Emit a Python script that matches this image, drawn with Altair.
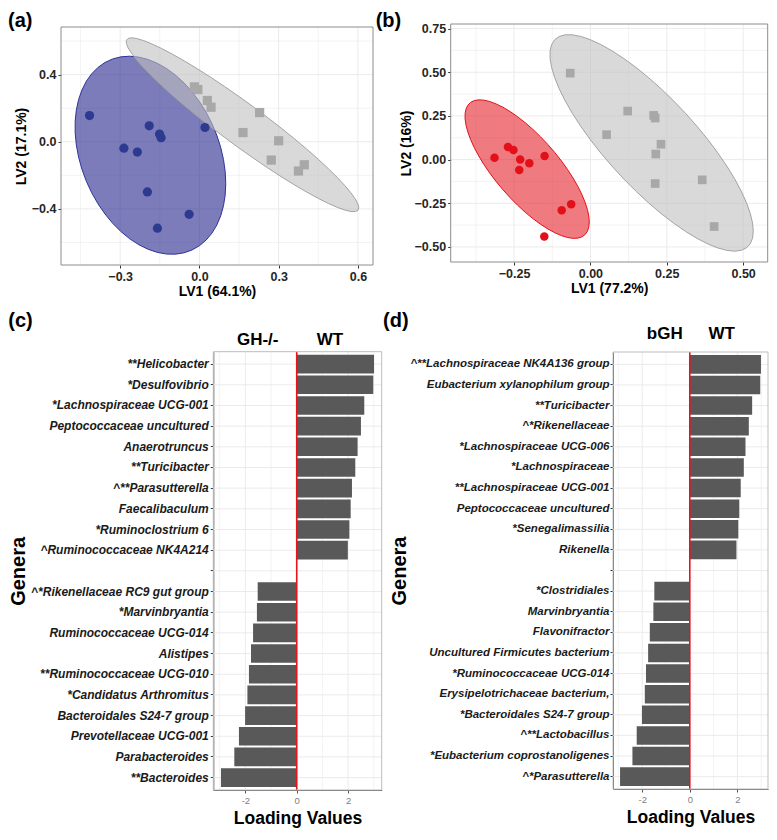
import numpy as np
import pandas as pd
import altair as alt

# ---------------- data ----------------
# (a) GH-/- (blue circles) vs WT (grey squares)
a_gh_lv1 = [-0.416, -0.190, -0.151, -0.145, 0.021, -0.286, -0.235, -0.197, -0.039, -0.159]
a_gh_lv2 = [0.156, 0.095, 0.046, 0.024, 0.085, -0.038, -0.061, -0.299, -0.432, -0.515]
a_wt_lv1 = [-0.019, -0.006, 0.030, 0.044, 0.228, 0.165, 0.300, 0.272, 0.397, 0.375]
a_wt_lv2 = [0.327, 0.311, 0.246, 0.206, 0.174, 0.055, 0.006, -0.109, -0.137, -0.174]

# (b) bGH (red circles) vs WT (grey squares)
b_bgh_lv1 = [-0.314, -0.270, -0.252, -0.230, -0.233, -0.200, -0.150, -0.094, -0.063, -0.151]
b_bgh_lv2 = [0.011, 0.072, 0.055, 0.000, -0.059, -0.021, 0.021, -0.290, -0.255, -0.440]
b_wt_lv1 = [-0.066, 0.122, 0.207, 0.212, 0.053, 0.231, 0.214, 0.212, 0.366, 0.405]
b_wt_lv2 = [0.495, 0.278, 0.253, 0.238, 0.143, 0.088, 0.032, -0.137, -0.116, -0.383]

# (c) loadings GH-/- vs WT
c_genera = ["**Helicobacter", "*Desulfovibrio", "*Lachnospiraceae UCG-001",
            "Peptococcaceae uncultured", "Anaerotruncus", "**Turicibacter",
            "^**Parasutterella", "Faecalibaculum", "*Ruminoclostrium 6",
            "^Ruminococcaceae NK4A214", " ",
            "^*Rikenellaceae RC9 gut group", "*Marvinbryantia", "Ruminococcaceae UCG-014",
            "Alistipes", "**Ruminococcaceae UCG-010", "*Candidatus Arthromitus",
            "Bacteroidales S24-7 group", "Prevotellaceae UCG-001", "Parabacteroides",
            "**Bacteroides"]
c_values = [3.01, 2.98, 2.63, 2.50, 2.37, 2.28, 2.15, 2.10, 2.05, 1.99,
            -1.52, -1.55, -1.70, -1.78, -1.86, -1.92, -2.01, -2.25, -2.43, -2.95]
c_headers = ["GH-/-", "WT"]
c_header_x = [-1.52, 1.29]

# (d) loadings bGH vs WT
d_genera = ["^**Lachnospiraceae NK4A136 group", "Eubacterium xylanophilum group",
            "**Turicibacter", "^*Rikenellaceae", "*Lachnospiraceae UCG-006",
            "*Lachnospiraceae", "**Lachnospiraceae UCG-001", "Peptococcaceae uncultured",
            "*Senegalimassilia", "Rikenella", " ",
            "*Clostridiales", "Marvinbryantia", "Flavonifractor",
            "Uncultured Firmicutes bacterium", "*Ruminococcaceae UCG-014",
            "Erysipelotrichaceae bacterium,", "*Bacteroidales S24-7 group",
            "^**Lactobacillus", "*Eubacterium coprostanoligenes", "^*Parasutterella"]
d_values = [2.99, 2.96, 2.62, 2.48, 2.34, 2.27, 2.14, 2.08, 2.04, 1.96,
            -1.49, -1.53, -1.68, -1.75, -1.84, -1.89, -2.01, -2.23, -2.41, -2.93]
d_headers = ["bGH", "WT"]
d_header_x = [-1.05, 1.34]

zero_line = [0]

# ---------------- layout / style ----------------
W, H = 761, 824
SANS = "Liberation Sans, Arial, sans-serif"
GRID = "#EBEBEB"
# plot-area boxes (pixels inside the view)
BOX = {
    "a": dict(x0=53, x1=365, y0=19, y1=257),
    "b": dict(x0=442.7, x1=759.7, y0=16, y1=254),
    "c": dict(x0=205.3, x1=373.7, y0=343.7, y1=782),
    "d": dict(x0=605, x1=760, y0=344, y1=781),
}


def robust_ellipse(xs, ys, level=0.95, nu=5, segments=51, maxit=25, tol=0.01):
    """Multivariate-t (cov.trob) confidence ellipse, as stat_ellipse(type='t')."""
    pts = np.column_stack([xs, ys]).astype(float)
    n, p = pts.shape
    wt = np.ones(n)
    loc = pts.mean(axis=0)
    w = np.sqrt(wt)
    X = pts - loc
    for _ in range(maxit):
        w0 = w
        X = pts - loc
        sw = np.sqrt(w / w.sum())
        _, d, vt = np.linalg.svd(sw[:, None] * X, full_matrices=False)
        wX = X @ vt.T @ np.diag(1.0 / d)
        Q = (wX ** 2).sum(axis=1)
        w = wt * (nu + p) / (nu + Q)
        loc = (w[:, None] * pts).sum(axis=0) / w.sum()
        if np.all(np.abs(w - w0) < tol):
            break
    sX = np.sqrt(w)[:, None] * X
    cov = sX.T @ sX / wt.sum()
    dfd = n - 1
    fq = dfd / 2.0 * ((1 - level) ** (-2.0 / dfd) - 1)
    radius = np.sqrt(2 * fq)
    R = np.linalg.cholesky(cov).T
    ang = np.arange(segments + 1) * 2 * np.pi / segments
    circ = np.column_stack([np.cos(ang), np.sin(ang)])
    ell = loc + radius * circ @ R
    return pd.DataFrame({"x": ell[:, 0], "y": ell[:, 1], "i": np.arange(segments + 1)})


def padded(vals, frac=0.05):
    lo, hi = float(min(vals)), float(max(vals))
    r = hi - lo
    return [lo - frac * r, hi + frac * r]


ONE = pd.DataFrame({"k": [0]})


def scatter_panel(key, tag, tag_dx, tag_dy, gx, gy, wx, wy, g_fill, g_line, g_point,
                  g_size, w_size, x_major, x_minor, y_major, y_minor, fmt,
                  x_title, y_title, y_title_pad):
    b = BOX[key]
    ge = robust_ellipse(gx, gy)
    we = robust_ellipse(wx, wy)
    xdom = padded(list(ge.x) + list(we.x) + gx + wx)
    ydom = padded(list(ge.y) + list(we.y) + gy + wy)
    xsc = alt.Scale(domain=xdom, range=[b["x0"], b["x1"]], nice=False, zero=False)
    ysc = alt.Scale(domain=ydom, range=[b["y1"], b["y0"]], nice=False, zero=False)
    common = dict(grid=False, domain=False, tickColor="#333333", tickSize=3, tickWidth=1,
                  labelFont=SANS, labelFontSize=12.5, labelFontWeight="bold",
                  labelColor="#262626", labelPadding=2,
                  titleFont=SANS, titleFontSize=14, titleFontWeight="bold",
                  titleColor="#000000")
    xax = alt.Axis(values=x_major, format=fmt, title=x_title, titlePadding=2,
                   orient="bottom", offset=b["y1"] - H, **common)
    yax = alt.Axis(values=y_major, format=fmt, title=y_title, titlePadding=y_title_pad,
                   orient="left", offset=-b["x0"], **common)

    def X(f):
        return alt.X(f, type="quantitative", scale=xsc, axis=None)

    def Y(f):
        return alt.Y(f, type="quantitative", scale=ysc, axis=None)

    def XD(v, axis=None):
        return alt.XDatum(v, type="quantitative", scale=xsc, axis=axis)

    def YD(v, axis=None):
        return alt.YDatum(v, type="quantitative", scale=ysc, axis=axis)

    layers = []
    for vals, wdt in ((x_major, 1.0), (x_minor, 0.6)):
        layers.append(alt.Chart(pd.DataFrame({"v": vals})).mark_rule(
            color=GRID, strokeWidth=wdt).encode(
            x=X("v"), y=YD(ydom[0]), y2=alt.Y2Datum(ydom[1])))
    for vals, wdt in ((y_major, 1.0), (y_minor, 0.6)):
        layers.append(alt.Chart(pd.DataFrame({"v": vals})).mark_rule(
            color=GRID, strokeWidth=wdt).encode(
            y=Y("v"), x=XD(xdom[0]), x2=alt.X2Datum(xdom[1])))
    layers.append(alt.Chart(ge).mark_line(
        fill=g_fill, fillOpacity=0.6, stroke=g_line, strokeWidth=1).encode(
        x=X("x"), y=Y("y"), order="i:Q"))
    layers.append(alt.Chart(we).mark_line(
        fill="#BFBFBF", fillOpacity=0.6, stroke="#A3A3A3", strokeWidth=1).encode(
        x=X("x"), y=Y("y"), order="i:Q"))
    layers.append(alt.Chart(pd.DataFrame({"x": gx, "y": gy})).mark_circle(
        size=g_size, color=g_point, opacity=1).encode(x=X("x"), y=Y("y")))
    layers.append(alt.Chart(pd.DataFrame({"x": wx, "y": wy})).mark_point(
        shape="square", filled=True, size=w_size, color="#A8A8A8", opacity=1
    ).encode(x=X("x"), y=Y("y")))
    layers.append(alt.Chart(ONE).mark_rect(
        fillOpacity=0, stroke="#8C8C8C", strokeWidth=1).encode(
        x=XD(xdom[0], xax), x2=alt.X2Datum(xdom[1]),
        y=YD(ydom[0], yax), y2=alt.Y2Datum(ydom[1])))
    layers.append(alt.Chart(pd.DataFrame({"t": [tag]})).mark_text(
        font=SANS, fontSize=20, fontWeight="bold", color="#000000",
        align="left", baseline="top", dx=tag_dx, dy=tag_dy).encode(
        x=XD(xdom[0]), y=YD(ydom[1]), text="t:N"))
    return layers


def bar_panel(key, tag, tag_dx, tag_dy, genera, values, headers, header_x, header_dy,
              label_size, label_pad, title_pad):
    b = BOX[key]
    names = [g for g in genera if g.strip()]
    df = pd.DataFrame({"genus": names, "value": values})
    xdom = padded(values + zero_line)
    xsc = alt.Scale(domain=xdom, range=[b["x0"], b["x1"]], nice=False, zero=False)
    ysc = alt.Scale(domain=genera, range=[b["y0"], b["y1"]],
                    paddingInner=0.1, paddingOuter=0.15)
    fsc = alt.Scale(domain=[0, 1], range=[b["y1"], b["y0"]], nice=False, zero=False)
    xax = alt.Axis(values=[-2, 0, 2], labelExpr="'' + datum.value", grid=False,
                   orient="bottom", offset=b["y1"] - H,
                   domainColor="#555555", tickColor="#555555", tickSize=3,
                   labelFont=SANS, labelFontSize=9.5, labelColor="#808080", labelPadding=2,
                   title="Loading Values", titleFont=SANS, titleFontSize=17.5,
                   titleFontWeight="bold", titleColor="#000000", titlePadding=5)
    yax = alt.Axis(grid=False, orient="left", offset=-b["x0"],
                   domainColor="#555555", tickColor="#333333",
                   tickSize=3, labelFont=SANS, labelFontStyle="italic",
                   labelFontWeight="bold", labelFontSize=label_size, labelColor="#1A1A1A",
                   labelPadding=label_pad, labelLimit=0,
                   title="Genera", titleFont=SANS, titleFontSize=20, titleFontWeight="bold",
                   titleColor="#000000", titlePadding=title_pad)

    def X(f, axis=None):
        return alt.X(f, type="quantitative", scale=xsc, axis=axis)

    def XD(v, axis=None):
        return alt.XDatum(v, type="quantitative", scale=xsc, axis=axis)

    def FD(v):
        return alt.YDatum(v, type="quantitative", scale=fsc, axis=None)

    layers = []
    layers.append(alt.Chart(pd.DataFrame({"v": [-2, 0, 2]})).mark_rule(
        color=GRID, strokeWidth=1).encode(x=X("v"), y=FD(0), y2=alt.Y2Datum(1)))
    layers.append(alt.Chart(pd.DataFrame({"v": [-3, -1, 1, 3]})).mark_rule(
        color=GRID, strokeWidth=0.6).encode(x=X("v"), y=FD(0), y2=alt.Y2Datum(1)))
    layers.append(alt.Chart(pd.DataFrame({"g": genera})).mark_rule(
        color=GRID, strokeWidth=1).encode(
        y=alt.Y("g:N", scale=ysc, axis=None, sort=genera),
        x=XD(xdom[0]), x2=alt.X2Datum(xdom[1])))
    layers.append(alt.Chart(df).mark_bar(color="#595959").encode(
        y=alt.Y("genus:N", scale=ysc, axis=yax, sort=genera),
        x=X("value"), x2=alt.X2Datum(0)))
    layers.append(alt.Chart(pd.DataFrame({"z": zero_line})).mark_rule(
        color="#E8141C", strokeWidth=1.6).encode(x=X("z"), y=FD(0), y2=alt.Y2Datum(1)))
    layers.append(alt.Chart(ONE).mark_rect(
        fillOpacity=0, stroke="#BDBDBD", strokeWidth=1).encode(
        x=XD(xdom[0], xax), x2=alt.X2Datum(xdom[1]), y=FD(0), y2=alt.Y2Datum(1)))
    layers.append(alt.Chart(pd.DataFrame({"h": headers, "hx": header_x})).mark_text(
        font=SANS, fontSize=17, fontWeight="bold", color="#000000", baseline="middle",
        dy=header_dy).encode(x=X("hx"), y=FD(1), text="h:N"))
    layers.append(alt.Chart(pd.DataFrame({"t": [tag]})).mark_text(
        font=SANS, fontSize=20, fontWeight="bold", color="#000000",
        align="left", baseline="top", dx=tag_dx, dy=tag_dy).encode(
        x=XD(xdom[0]), y=FD(1), text="t:N"))
    return layers


layers = []
layers += scatter_panel("a", "(a)", -53, -16, a_gh_lv1, a_gh_lv2, a_wt_lv1, a_wt_lv2,
                        "#23258A", "#2F3399", "#2C3A8F", 85, 85,
                        [-0.3, 0.0, 0.3, 0.6], [-0.45, -0.15, 0.15, 0.45],
                        [-0.4, 0.0, 0.4], [-0.6, -0.2, 0.2, 0.6], ".1f",
                        "LV1 (64.1%)", "LV2 (17.1%)", 3)
layers += scatter_panel("b", "(b)", -75, -13, b_bgh_lv1, b_bgh_lv2, b_wt_lv1, b_wt_lv2,
                        "#E4212A", "#E3101A", "#E3101A", 72, 75,
                        [-0.25, 0.0, 0.25, 0.5], [-0.375, -0.125, 0.125, 0.375],
                        [-0.5, -0.25, 0.0, 0.25, 0.5, 0.75],
                        [-0.375, -0.125, 0.125, 0.375, 0.625], ".2f",
                        "LV1 (77.2%)", "LV2 (16%)", 1)
layers += bar_panel("c", "(c)", -205, -41, c_genera, c_values, c_headers, c_header_x,
                    -12, 12, 2, 2)
layers += bar_panel("d", "(d)", -230, -41, d_genera, d_values, d_headers, d_header_x,
                    -18, 11.5, 1, 4)

chart = alt.layer(*layers).resolve_scale(
    x="independent", y="independent").resolve_axis(
    x="independent", y="independent").properties(
    width=W, height=H, padding=0).configure_view(strokeWidth=0)

chart.save("out.html", embed_options={"renderer": "svg", "actions": False})
